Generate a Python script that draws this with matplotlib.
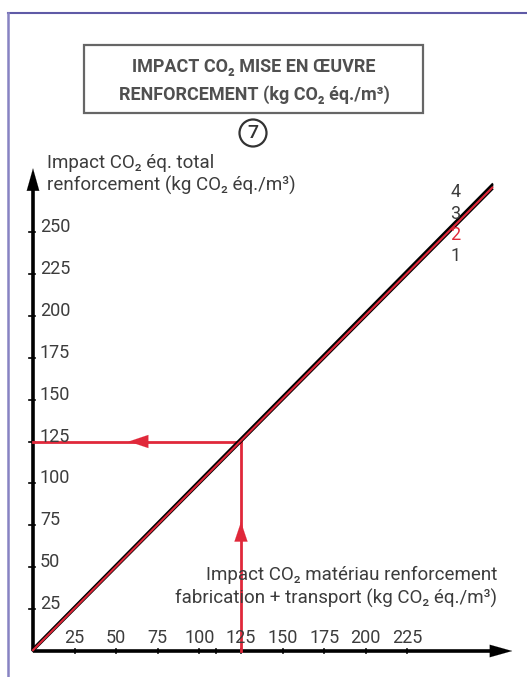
import matplotlib.pyplot as plt
from matplotlib.patches import Rectangle, Ellipse
from matplotlib.transforms import ScaledTranslation

plt.rcParams['font.family'] = ['Roboto', 'DejaVu Sans']

# Abaque 7 : impact CO2 du renforcement
x_ticks = [25, 50, 75, 100, 125, 150, 175, 200, 225]
x_extra_tick = [110]
y_ticks = [25, 50, 75, 100, 125, 150, 175, 200, 225, 250]

# courbes 1 à 4 (quasi confondues)
curve_x = [0, 276]
curves = {
    '1': [0.0, 275.5],
    '2': [0.5, 276.5],
    '3': [1.0, 277.5],
    '4': [1.5, 278.5],
}
curve_colors = {'1': 'black', '2': '#e0283a', '3': 'black', '4': 'black'}
label_y = {'4': 274, '3': 261, '2': 248.5, '1': 235.5}
label_x = 254

# lecture de l'exemple
read_x = 125
read_y = 125

RED = '#e0283a'
GREY = '#3c3c3c'

W, H = 527, 677
fig = plt.figure(figsize=(W / 100, H / 100), dpi=100)
ax = fig.add_axes([0, 0, 1, 1])
ax.set_axis_off()

# échelle : 25 unités = ~41.6 px en x, ~41.9 px en y, origine à (33, 651)
sx, sy = 41.6 / 25, 41.9 / 25
ox, oy = 33, H - 651
ax.set_xlim(-ox / sx, (W - ox) / sx)
ax.set_ylim(-oy / sy, (H - oy) / sy)

# cadre violet
fig.add_artist(plt.Line2D([8 / W, 1], [1 - 12.5 / H] * 2, color='#5f5aa6', lw=1.5,
                          transform=fig.transFigure))
fig.add_artist(plt.Line2D([8 / W] * 2, [0, 1 - 12.5 / H], color='#8783c2', lw=1.8,
                          transform=fig.transFigure))

# axes avec flèches
ax_end = 288
ax.plot([0, ax_end - 10], [0, 0], color='black', lw=2.6, solid_capstyle='butt')
ax.plot([0, 0], [0, ax_end - 10], color='black', lw=2.6, solid_capstyle='butt')
head = dict(arrowstyle='-|>,head_length=1.6,head_width=0.45', mutation_scale=10,
            color='black', lw=0.1, shrinkA=0, shrinkB=0)
ax.annotate('', xy=(ax_end, 0), xytext=(ax_end - 12, 0), arrowprops=head)
ax.annotate('', xy=(0, ax_end), xytext=(0, ax_end - 12), arrowprops=head)

# graduations
x_lab = ax.transData + ScaledTranslation(0, 13 / 100, fig.dpi_scale_trans)
y_lab = ax.transData + ScaledTranslation(7 / 100, 5 / 100, fig.dpi_scale_trans)
for t in x_ticks + x_extra_tick:
    ax.plot([t, t], [-1.2, 1.2], color='black', lw=1.2)
for t in x_ticks:
    ax.text(t, 0, str(t), ha='center', va='center', fontsize=13, color=GREY,
            transform=x_lab)
for t in y_ticks:
    ax.plot([-2.2, 1.2], [t, t], color='black', lw=1.2)
    ax.text(0, t, str(t), ha='left', va='center', fontsize=13, color=GREY,
            transform=y_lab)

# courbes
for name in ['1', '3', '4', '2']:
    ax.plot(curve_x, curves[name], color=curve_colors[name], lw=1.5,
            zorder=4 if name == '2' else 3)
for name, yv in label_y.items():
    ax.text(label_x, yv, name, ha='center', va='center', fontsize=13,
            color=RED if name == '2' else GREY)

# lecture : verticale puis horizontale
ax.plot([read_x, read_x], [0, read_y], color=RED, lw=2, zorder=2)
ax.plot([read_x, 0], [read_y, read_y], color=RED, lw=2, zorder=2)
red_head = dict(arrowstyle='-|>,head_length=1.4,head_width=0.47', mutation_scale=10,
                color=RED, lw=0.1, shrinkA=0, shrinkB=0)
ax.annotate('', xy=(57.5, read_y), xytext=(70, read_y), arrowprops=red_head)
ax.annotate('', xy=(read_x, 77), xytext=(read_x, 66), arrowprops=red_head)

# titres des axes
label_kw = dict(transform=fig.transFigure, va='center', fontsize=13.5, color=GREY)
fig.text(47 / W, 1 - 163 / H, 'Impact CO₂ éq. total', ha='left', **label_kw)
fig.text(47 / W, 1 - 185 / H, 'renforcement (kg CO₂ éq./m³)', ha='left', **label_kw)
fig.text(497 / W, 1 - 575 / H, 'Impact CO₂ matériau renforcement', ha='right', **label_kw)
fig.text(497 / W, 1 - 598 / H, 'fabrication + transport (kg CO₂ éq./m³)', ha='right',
         **label_kw)

# encadré du titre
fig.add_artist(Rectangle((84 / W, 1 - 113 / H), (423 - 84) / W, (113 - 45) / H,
                         transform=fig.transFigure, fill=False, ec='#666666', lw=1.6))
fig.text(254 / W, 1 - 67 / H, 'IMPACT CO₂ MISE EN ŒUVRE', ha='center', va='center',
         fontsize=13, fontweight='bold', color='#505050')
fig.text(254 / W, 1 - 95 / H, 'RENFORCEMENT (kg CO₂ éq./m³)', ha='center', va='center',
         fontsize=13, fontweight='bold', color='#505050')

# pastille numérotée
r = 13.5
fig.add_artist(Ellipse((253 / W, 1 - 133 / H), 2 * r / W, 2 * r / H,
                       transform=fig.transFigure, fill=False, ec='#333333', lw=1.6))
fig.text(253 / W, 1 - 133 / H, '7', ha='center', va='center', fontsize=14,
         fontweight='medium', color='#333333')

fig.savefig('out.png', dpi=100)
